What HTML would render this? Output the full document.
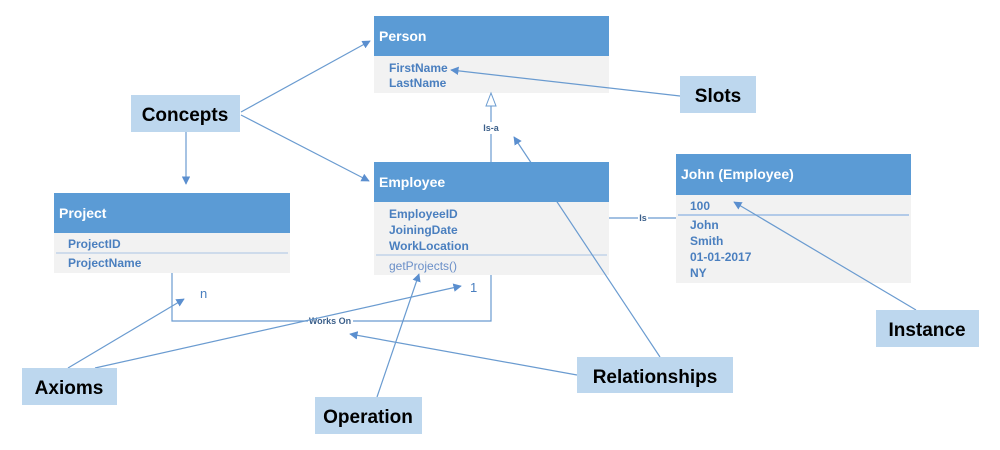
<!DOCTYPE html>
<html><head><meta charset="utf-8"><style>
html,body{margin:0;padding:0;background:#fff;}
svg{display:block;font-family:"Liberation Sans",sans-serif;}
.h{fill:#5b9bd5}.b{fill:#f2f2f2}
.ht{fill:#fff;font-weight:bold;font-size:14px}
.at{fill:#4a7fbf;font-weight:bold;font-size:12px}
.lb{fill:#bdd7ee}
.lt{fill:#000;font-weight:bold;font-size:19px}
.ln{stroke:#6a9bd0;stroke-width:1.2;fill:none}
</style></head><body>
<svg width="1000" height="450" viewBox="0 0 1000 450">
<defs>
<marker id="a" viewBox="0 0 10 10" refX="9" refY="5" markerWidth="7" markerHeight="7" orient="auto"><path d="M0,0L10,5L0,10z" fill="#5b8fcf"/></marker>
</defs>
<!-- Person -->
<rect class="h" x="374" y="16" width="235" height="40"/>
<rect class="b" x="374" y="56" width="235" height="37"/>
<text class="ht" x="379" y="41">Person</text>
<text class="at" x="389" y="72">FirstName</text>
<text class="at" x="389" y="87">LastName</text>
<!-- Employee body -->
<rect class="b" x="374" y="202" width="235" height="73"/>
<line x1="376" y1="255" x2="607" y2="255" stroke="#a9c4e4" stroke-width="1"/>
<text class="at" x="389" y="218">EmployeeID</text>
<text class="at" x="389" y="234">JoiningDate</text>
<text class="at" x="389" y="250">WorkLocation</text>
<text x="389" y="270" fill="#6a8fc8" font-size="12">getProjects()</text>
<line class="ln" x1="660" y1="357" x2="514" y2="137" marker-end="url(#a)"/>
<rect class="h" x="374" y="162" width="235" height="40"/>
<text class="ht" x="379" y="187">Employee</text>
<!-- Project -->
<rect class="h" x="54" y="193" width="236" height="40"/>
<rect class="b" x="54" y="233" width="236" height="40"/>
<line x1="56" y1="253" x2="288" y2="253" stroke="#a9c4e4"/>
<text class="ht" x="59" y="218">Project</text>
<text class="at" x="68" y="248">ProjectID</text>
<text class="at" x="68" y="267">ProjectName</text>
<!-- John -->
<rect class="h" x="676" y="154" width="235" height="41"/>
<rect class="b" x="676" y="195" width="235" height="88"/>
<line x1="678" y1="215" x2="909" y2="215" stroke="#9cbde4" stroke-width="1.5"/>
<text class="ht" x="681" y="179">John (Employee)</text>
<text class="at" x="690" y="210">100</text>
<text class="at" x="690" y="229">John</text>
<text class="at" x="690" y="245">Smith</text>
<text class="at" x="690" y="261">01-01-2017</text>
<text class="at" x="690" y="277">NY</text>
<!-- Is-a -->
<line class="ln" x1="491" y1="162" x2="491" y2="106"/>
<path d="M486,106L491,93L496,106z" fill="#fff" stroke="#6a9bd0"/>
<rect x="480" y="122" width="24" height="12" fill="#fff"/>
<text x="491" y="131" text-anchor="middle" font-size="9" font-weight="bold" fill="#3b5f8a">Is-a</text>
<!-- Is -->
<line class="ln" x1="609" y1="218" x2="676" y2="218"/>
<rect x="638" y="213" width="10" height="10" fill="#fff"/>
<text x="643" y="221" text-anchor="middle" font-size="9" font-weight="bold" fill="#3b5f8a">Is</text>
<!-- Works On -->
<polyline class="ln" points="172,273 172,321 491,321 491,275"/>
<rect x="308" y="316" width="45" height="11" fill="#fff"/>
<text x="330" y="324" text-anchor="middle" font-size="9" font-weight="bold" fill="#3b5f8a">Works On</text>
<text x="200" y="298" font-size="13" fill="#4a7fbf">n</text>
<text x="470" y="292" font-size="13" fill="#4a7fbf">1</text>
<!-- pointers -->
<line class="ln" x1="241" y1="112" x2="370" y2="41" marker-end="url(#a)"/>
<line class="ln" x1="241" y1="115" x2="369" y2="181" marker-end="url(#a)"/>
<line class="ln" x1="186" y1="132" x2="186" y2="184" marker-end="url(#a)"/>
<line class="ln" x1="680" y1="96" x2="451" y2="70" marker-end="url(#a)"/>
<line class="ln" x1="916" y1="310" x2="734" y2="202" marker-end="url(#a)"/>
<line class="ln" x1="577" y1="375" x2="350" y2="334" marker-end="url(#a)"/>
<line class="ln" x1="377" y1="397" x2="419" y2="274" marker-end="url(#a)"/>
<line class="ln" x1="68" y1="368" x2="184" y2="299" marker-end="url(#a)"/>
<line class="ln" x1="95" y1="368" x2="461" y2="286" marker-end="url(#a)"/>
<!-- labels -->
<rect class="lb" x="131" y="95" width="109" height="37"/><text class="lt" x="185" y="121" text-anchor="middle">Concepts</text>
<rect class="lb" x="680" y="76" width="76" height="37"/><text class="lt" x="718" y="102" text-anchor="middle">Slots</text>
<rect class="lb" x="876" y="310" width="103" height="37"/><text class="lt" x="927" y="336" text-anchor="middle">Instance</text>
<rect class="lb" x="577" y="357" width="156" height="36"/><text class="lt" x="655" y="383" text-anchor="middle">Relationships</text>
<rect class="lb" x="22" y="368" width="95" height="37"/><text class="lt" x="69" y="394" text-anchor="middle">Axioms</text>
<rect class="lb" x="315" y="397" width="107" height="37"/><text class="lt" x="368" y="423" text-anchor="middle">Operation</text>
</svg>
</body></html>
